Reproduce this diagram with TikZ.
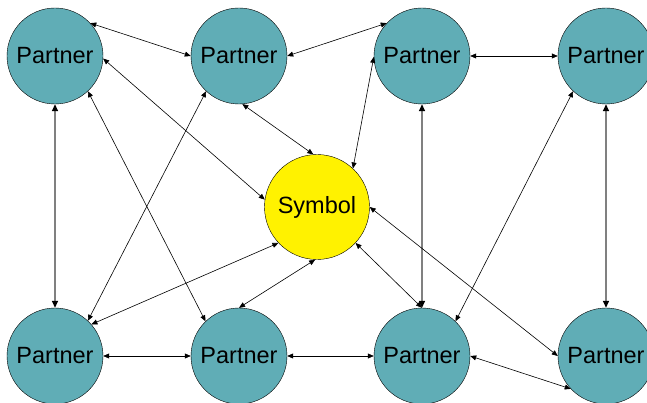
\documentclass[tikz,border=0pt]{standalone}
\usepackage{fontspec}
\setmainfont{Liberation Sans}
\usetikzlibrary{arrows.meta}
\definecolor{partnerteal}{RGB}{96,173,182}
\begin{document}
\begin{tikzpicture}[
  x=1pt, y=1pt,
  partner/.style={circle, draw, fill=partnerteal, minimum size=96pt, inner sep=0pt, font=\fontsize{23.5}{28}\selectfont},
  symbolnode/.style={circle, draw, fill=yellow, minimum size=105pt, inner sep=0pt, font=\fontsize{23.5}{28}\selectfont},
  arrow/.style={{Triangle[length=6pt,width=5pt]}-{Triangle[length=6pt,width=5pt]}, line width=0.6pt},
  garrow/.style={{Triangle[length=7pt,width=6pt,color=black]}-{Triangle[length=7pt,width=6pt,color=black]}, draw=gray, line width=1.5pt}
]
\useasboundingbox (0,0) rectangle (647,402);
\node[partner] (tl) at (55,346) {Partner};
\node[partner] (tb) at (239,346) {Partner};
\node[partner] (tc) at (422,346) {Partner};
\node[partner] (tr) at (606,346) {Partner};
\node[partner] (bl) at (55,46) {Partner};
\node[partner] (bb) at (239,46) {Partner};
\node[partner] (bc) at (422,46) {Partner};
\node[partner] (br) at (606,46) {Partner};
\node[symbolnode] (sym) at (317,195) {Symbol};

% top row
\draw[arrow] (tl.43) -- (tb.180);
\draw[arrow] (tb.0) -- (tc.137);
\draw[arrow] (tc.0) -- (tr.180);
% bottom row
\draw[arrow] (bl.0) -- (bb.180);
\draw[arrow] (bb.0) -- (bc.180);
\draw[arrow] (bc.0) -- (br.223);
% verticals
\draw[garrow] (tl.270) -- (bl.90);
\draw[garrow] (tc.270) -- (bc.90);
\draw[garrow] (tr.270) -- (br.90);
% crossings
\draw[arrow] (tl.-47) -- (bb.134);
\draw[arrow] (tb.227) -- (bl.47);
\draw[arrow] (tr.227) -- (bc.46);
% to the symbol
\draw[arrow] (tl.-3) -- (sym.172);
\draw[arrow] (tb.-86) -- (sym.94);
\draw[arrow] (tc.181) -- (sym.47);
\draw[arrow] (bl.41) -- (sym.223);
\draw[arrow] (bb.90) -- (sym.268);
\draw[arrow] (sym.-43) -- (bc.90);
\draw[arrow] (sym.0) -- (br.180);
\end{tikzpicture}
\end{document}
